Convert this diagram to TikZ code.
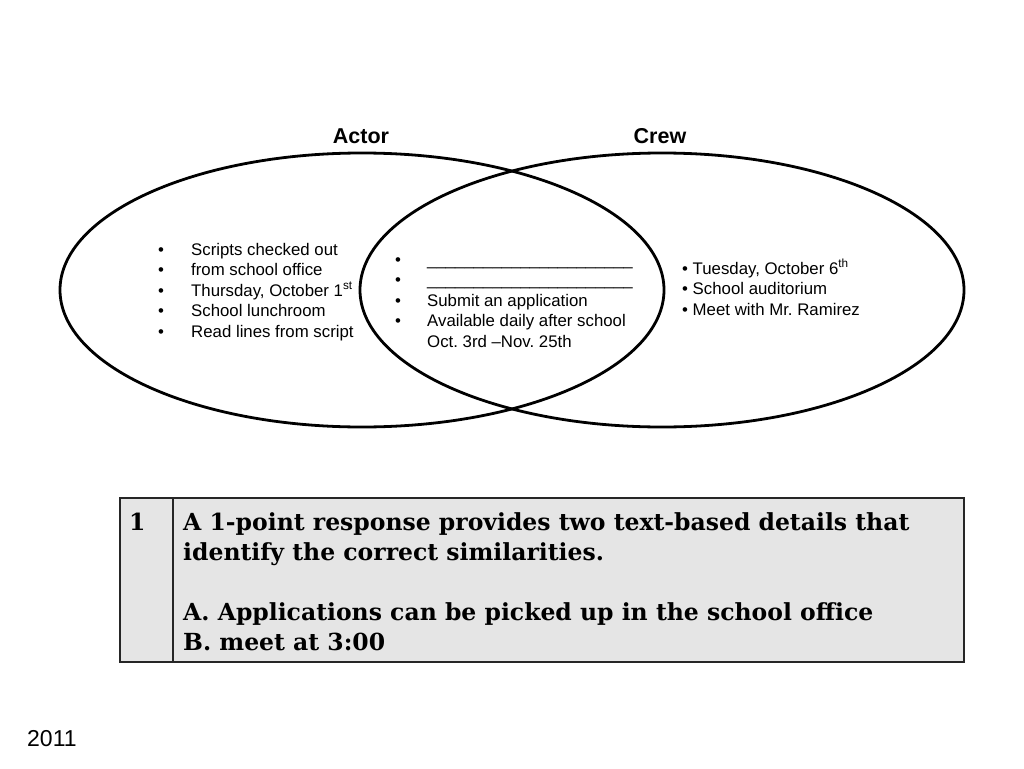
\documentclass[tikz,border=0pt]{standalone}
\usepackage{fontspec}
\setmainfont{Liberation Sans}
\newfontfamily\rubricfont{DejaVu Serif}
\usepackage{tikz}
\usetikzlibrary{shapes.geometric, positioning}
\frenchspacing

\newcommand{\bul}[1]{\makebox[#1][l]{\textbullet}}

\begin{document}
\begin{tikzpicture}[
  x=1pt, y=-1pt,
  setring/.style={ellipse, draw=black, line width=2.8pt, minimum width=604pt,
                  minimum height=274pt, inner sep=0pt},
  settitle/.style={anchor=base, inner sep=0pt,
                   font=\fontsize{21.5}{24}\selectfont\bfseries},
  listtext/.style={anchor=base west, inner sep=0pt,
                   font=\fontsize{16.8}{20.6}\selectfont},
  cell/.style={rectangle, draw=black!85, line width=1.6pt, fill=black!10,
               inner sep=0pt, minimum height=164pt},
  rubric/.style={anchor=base west, inner sep=0pt,
                 font=\fontsize{23.5}{30}\rubricfont\bfseries}
]
\useasboundingbox (0,0) rectangle (1024,768);

% the two sets
\node[setring] (actorset) at (362,290) {};
\node[setring] (crewset)  at (662,290) {};
\node[settitle] (actortitle) at (361,143) {Actor};
\node[settitle] (crewtitle)  at (660,143) {Crew};

% actor only
\node[listtext] (actorlist) at (158,255) {%
  \begin{tabular}[t]{@{}l@{}l@{}}
  \bul{33pt} & Scripts checked out\\
  \bul{33pt} & from school office\\
  \bul{33pt} & Thursday, October 1\textsuperscript{st}\\
  \bul{33pt} & School lunchroom\\
  \bul{33pt} & Read lines from script
  \end{tabular}};

% both
\node[listtext] (bothlist) at (395,265) {%
  \begin{tabular}[t]{@{}l@{}l@{}}
  \bul{32pt} & \_\_\_\_\_\_\_\_\_\_\_\_\_\_\_\_\_\_\_\_\_\_\\
  \bul{32pt} & \_\_\_\_\_\_\_\_\_\_\_\_\_\_\_\_\_\_\_\_\_\_\\
  \bul{32pt} & Submit an application\\
  \bul{32pt} & Available daily after school\\
             & Oct. 3rd --Nov. 25th
  \end{tabular}};

% crew only
\node[listtext] (crewlist) at (682,274) {%
  \begin{tabular}[t]{@{}l@{}}
  \textbullet\ Tuesday, October 6\textsuperscript{th}\\
  \textbullet\ School auditorium\\
  \textbullet\ Meet with Mr. Ramirez
  \end{tabular}};

% scoring table
\node[cell, minimum width=53pt, anchor=north west] (scorecell) at (119,497) {};
\node[cell, minimum width=791pt, anchor=north west] (notecell) at (172,497) {};
\node[rubric] (score) at (129,530) {1};
\node[rubric] (note) at (183,530) {%
  \begin{tabular}[t]{@{}l@{}}
  A 1-point response provides two text-based details that\\
  identify the correct similarities.\\
  \\
  A. Applications can be picked up in the school office\\
  B. meet at 3:00
  \end{tabular}};

\node[anchor=base west, inner sep=0pt, font=\fontsize{23}{26}\selectfont]
  (year) at (27,746) {2011};
\end{tikzpicture}
\end{document}
